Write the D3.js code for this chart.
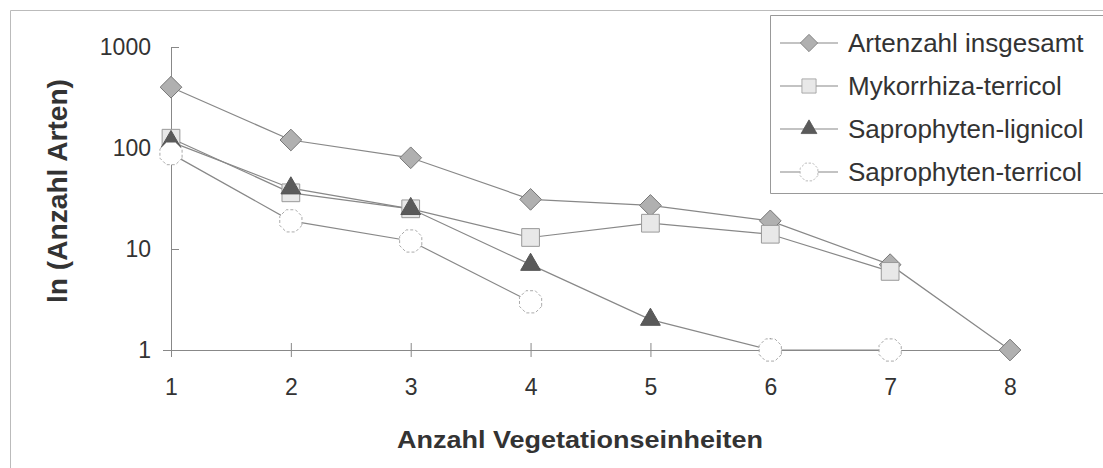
<!DOCTYPE html>
<html>
<head>
<meta charset="utf-8">
<script src="https://cdn.jsdelivr.net/npm/d3@7"></script>
<style>
body{margin:0;background:#fff;}
text{font-family:"Liberation Sans",Arial,sans-serif;fill:#333;}
</style>
</head>
<body>
<div id="canvas"></div>
<script>
var categories = [1,2,3,4,5,6,7,8];
var yTicks = [1,10,100,1000];
// null = no value
var artenzahl = [400,120,80,31,27,19,7,1];
var mykorrhiza = [125,36,25,13,18,14,6,null];
var lignicol = [115,40,25,7,2,1,null,null];
var terricol = [88,19,12,3,null,1,1,null];
var seriesNames = ['Artenzahl insgesamt','Mykorrhiza-terricol','Saprophyten-lignicol','Saprophyten-terricol'];

var W = 1103, H = 468;
var svg = d3.select('#canvas').append('svg').attr('width',W).attr('height',H);

// outer frame
svg.append('path').attr('d','M10.5,468 V10.5 H1103')
    .style('fill','none').style('stroke','#bbb');

var x = d3.scaleLinear().domain([1,8]).range([171,1010]);
var y = d3.scaleLog().domain([1,1000]).range([350,47]);

var plot = svg.append('g');

// axes
var xAxis = plot.append('g').attr('transform','translate(0,350)')
    .call(d3.axisBottom(x).tickValues(categories).tickFormat(d3.format('d')).tickSize(7).tickSizeOuter(0));
xAxis.selectAll('.tick line').attr('y1',-7);
xAxis.select('.domain').attr('d','M163,0.5H1010');
xAxis.selectAll('text').attr('dy','0.71em').attr('y',29);

var yAxis = plot.append('g').attr('transform','translate(171,0)')
    .call(d3.axisLeft(y).tickValues(yTicks).tickFormat(d3.format('d')).tickSize(8).tickSizeOuter(0));
yAxis.selectAll('.tick line').attr('x2',8);
yAxis.selectAll('text').attr('x',-20);
plot.selectAll('.domain, .tick line').style('stroke','#888');
plot.selectAll('.tick text').style('fill','#333').style('font-size','23px')
    .style('font-family','"Liberation Sans",Arial,sans-serif');

// axis titles
svg.append('text').attr('x',580).attr('y',448).attr('text-anchor','middle')
    .style('font-size','24px').style('font-weight','bold')
    .style('font-family','"Liberation Sans Narrow","Liberation Sans",Arial,sans-serif')
    .attr('textLength',366).attr('lengthAdjust','spacingAndGlyphs')
    .text('Anzahl Vegetationseinheiten');
svg.append('text').attr('transform','translate(67,191) rotate(-90)').attr('text-anchor','middle')
    .style('font-size','27px').style('font-weight','bold')
    .attr('textLength',224).attr('lengthAdjust','spacingAndGlyphs')
    .text('ln (Anzahl Arten)');

// markers
var symDiamond = d3.symbol().type(d3.symbolDiamond2).size(300);
var symSquare = d3.symbol().type(d3.symbolSquare2).size(400);
var symTriangle = d3.symbol().type(d3.symbolTriangle2).size(280);
function octagon(r){
    var p = d3.path();
    for(var i = 0; i < 8; i++){
        var a = Math.PI/8 + i*Math.PI/4;
        if(i==0) p.moveTo(r*Math.cos(a), r*Math.sin(a)); else p.lineTo(r*Math.cos(a), r*Math.sin(a));
    }
    p.closePath();
    return p.toString();
}

var series = [
    {name:seriesNames[0], values:artenzahl, path:symDiamond(), fill:'#b0b0b0', stroke:'#777', dash:null},
    {name:seriesNames[1], values:mykorrhiza, path:symSquare(), fill:'#e8e8e8', stroke:'#999', dash:null},
    {name:seriesNames[2], values:lignicol, path:symTriangle(), fill:'#5a5a5a', stroke:'#555', dash:null},
    {name:seriesNames[3], values:terricol, path:octagon(12), fill:'#fff', stroke:'#aaa', dash:'3,2'}
];

var line = d3.line()
    .defined(function(d){ return d.v != null; })
    .x(function(d){ return x(d.c); })
    .y(function(d){ return y(d.v); });

series.forEach(function(s){
    var pts = categories.map(function(c,i){ return {c:c, v:s.values[i]}; });
    plot.append('path').attr('d',line(pts))
        .style('fill','none').style('stroke','#888').style('stroke-width',1.2);
});
series.forEach(function(s){
    var pts = categories.map(function(c,i){ return {c:c, v:s.values[i]}; }).filter(function(d){ return d.v != null; });
    plot.selectAll(null).data(pts).enter().append('path')
        .attr('d',s.path)
        .attr('transform',function(d){ return 'translate('+x(d.c)+','+y(d.v)+')'; })
        .style('fill',s.fill).style('stroke',s.stroke).style('stroke-width',1)
        .style('stroke-dasharray',s.dash);
});

// legend
var lg = svg.append('g');
lg.append('path').attr('d','M1103,15.5 H770.5 V193.5 H1103')
    .style('fill','#fff').style('stroke','#999');
series.forEach(function(s,i){
    var ly = 43 + i*43;
    lg.append('line').attr('x1',780).attr('x2',838).attr('y1',ly).attr('y2',ly)
        .style('stroke','#888').style('stroke-width',1.2);
    lg.append('path').attr('d',s.path)
        .attr('transform','translate(809,'+ly+') scale(0.8)')
        .style('fill',s.fill).style('stroke',s.stroke).style('stroke-dasharray',s.dash);
    lg.append('text').attr('x',848).attr('y',ly).attr('dy','0.35em')
        .style('font-size','26px').text(s.name);
});
</script>
</body>
</html>
